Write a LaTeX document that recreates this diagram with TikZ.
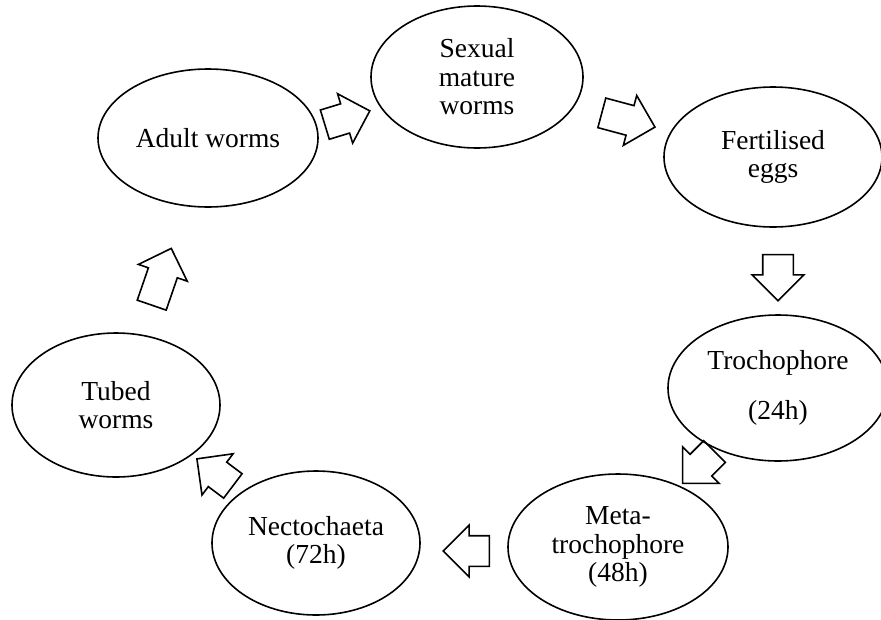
\documentclass[tikz,border=0pt]{standalone}
\usepackage{fontspec}
\setmainfont{Liberation Serif}
\usetikzlibrary{shapes.geometric,shapes.arrows}

\begin{document}
\begin{tikzpicture}[x=1pt, y=-1pt,
		stage/.style={draw, ellipse, line width=1.6pt, inner sep=0pt, align=center,
			font=\fontsize{27.5}{28.5}\selectfont},
		flow/.style={draw, single arrow, line width=1.6pt, inner sep=0pt,
			text height=29pt, text depth=0pt, single arrow head extend=10.5pt}]
		\useasboundingbox (0,0) rectangle (881,619);
		% life cycle stages
		\node (Sexual) [stage, minimum width=212pt, minimum height=142pt] at (477,77) {Sexual\\mature\\worms};
		\node (Eggs) [stage, minimum width=218pt, minimum height=140pt] at (773,157) {Fertilised\\eggs};
		\node (Troch) [stage, minimum width=220pt, minimum height=146pt] at (778,388) {Trochophore\\[22pt](24h)};
		\node (Meta) [stage, minimum width=220pt, minimum height=146pt] at (618,547) {Meta-\\trochophore\\(48h)};
		\node (Necto) [stage, minimum width=208pt, minimum height=144pt] at (316,543) {Nectochaeta\\(72h)};
		\node (Tubed) [stage, minimum width=208pt, minimum height=144pt] at (116,405) {Tubed\\worms};
		\node (Adult) [stage, minimum width=220pt, minimum height=138pt] at (208,138) {Adult worms};
		% block arrows
		\node (a1) [flow, minimum height=47pt, rotate=17] at (340,120) {};
		\node (a2) [flow, minimum height=55pt, rotate=-15] at (621,118) {};
		\node (a3) [flow, minimum height=46pt, rotate=-90] at (778,270) {};
		\node (a4) [flow, minimum height=45pt, rotate=-135] at (704,462) {};
		\node (a5) [flow, minimum height=46pt, rotate=180] at (474,551) {};
		\node (a6) [flow, minimum height=45pt, rotate=143] at (221,477) {};
		\node (a7) [flow, minimum height=60pt, rotate=71] at (159,284) {};
	\end{tikzpicture}
\end{document}
